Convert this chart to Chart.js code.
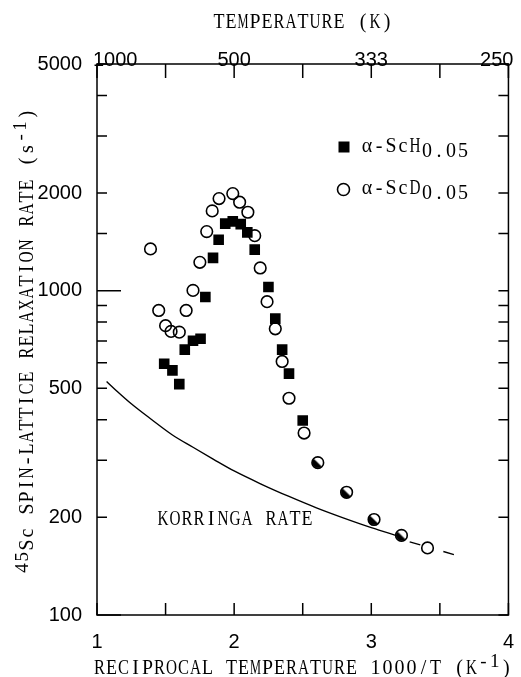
<!DOCTYPE html>
<html>
<head>
<meta charset="utf-8">
<title>45Sc spin-lattice relaxation rate</title>
<script src="https://cdn.jsdelivr.net/npm/chart.js@4.4.1/dist/chart.umd.min.js"></script>
<style>
  html, body { margin: 0; padding: 0; background: #fff; }
  #wrap { position: relative; width: 521px; height: 677px; }
</style>
</head>
<body>
<div id="wrap"><canvas id="chart"></canvas></div>
<script>
// α-ScH0.05 - filled squares (1000/T in K^-1, rate in s^-1)
const hX = [1.49, 1.55, 1.60, 1.64, 1.70, 1.755, 1.79, 1.846, 1.887, 1.935, 1.99, 2.048, 2.096, 2.15, 2.25, 2.30, 2.35, 2.40, 2.50, 2.61, 2.82, 3.02, 3.22];
const hY = [595, 568, 515, 658, 701, 711, 956, 1262, 1436, 1610, 1636, 1604, 1513, 1338, 1026, 820, 658, 555, 398, 295, 239, 197, 176];

// α-ScD0.05 - open circles
const dX = [1.39, 1.45, 1.50, 1.54, 1.60, 1.65, 1.70, 1.75, 1.80, 1.84, 1.89, 1.99, 2.04, 2.10, 2.15, 2.19, 2.24, 2.30, 2.35, 2.40, 2.51, 2.61, 2.82, 3.02, 3.22, 3.41];
const dY = [1345, 869, 780, 749, 745, 869, 1002, 1223, 1521, 1762, 1923, 1992, 1874, 1745, 1478, 1175, 925, 763, 605, 466, 364, 295, 239, 197, 176, 161];

// Korringa rate: solid part, then dashed extrapolation
const kX = [1.07, 1.15, 1.25, 1.4, 1.55, 1.7, 1.85, 2.0, 2.2, 2.4, 2.6, 2.8, 3.0, 3.2];
const kY = [525, 488, 448, 400, 359, 329, 302, 278, 253, 232, 214, 199, 186, 175];
const kDashX = [3.28, 3.64];
const kDashY = [168, 152];

// axes
const xMin = 1, xMax = 4;
const yMin = 100, yMax = 5000;
const yLabelled = [100, 200, 500, 1000, 2000, 5000];
const topTempLabels = ['1000', '500', '333', '250']; // temperature at 1000/T = 1, 2, 3, 4

const TYPE = '"Liberation Serif", "DejaVu Serif", serif';
const SANS = '"Liberation Sans", Arial, sans-serif';
const CELL = 12; // typewriter pitch, px per character

function pts(xs, ys) {
    return xs.map((x, i) => ({ x: x, y: ys[i] }));
}

// both samples measured at the same point -> half filled marker
function isShared(x, y) {
    return dX.some((v, i) => v === x && dY[i] === y);
}

function halfDisc() {
    const c = document.createElement('canvas');
    c.width = 16;
    c.height = 16;
    const g = c.getContext('2d');
    g.fillStyle = '#000';
    g.beginPath();
    g.arc(8, 8, 5.8, Math.PI / 4, Math.PI * 5 / 4);
    g.closePath();
    g.fill();
    return c;
}
const halfMarker = halfDisc();

// typewriter-like text: every character in a fixed cell, parts = [{t, size, dy}]
function drawRich(ctx, parts, x, y, align) {
    let total = 0;
    parts.forEach(p => { p.cell = CELL * p.size / 20; total += p.t.length * p.cell; });
    let cx = align === 'center' ? x - total / 2 : x;
    ctx.textAlign = 'center';
    ctx.textBaseline = 'alphabetic';
    parts.forEach(p => {
        ctx.font = p.size + 'px ' + TYPE;
        for (const ch of p.t) {
            const w = ctx.measureText(ch).width;
            const sx = Math.min(1, (p.cell - 1) / w);
            ctx.save();
            ctx.translate(cx + p.cell / 2, y + (p.dy || 0));
            ctx.scale(sx, 1);
            ctx.fillText(ch, 0, 0);
            ctx.restore();
            cx += p.cell;
        }
    });
}

const decor = {
    id: 'decor',
    beforeDatasetsDraw(chart) {
        const { ctx, chartArea: a, scales } = chart;
        ctx.save();
        ctx.strokeStyle = '#000';
        ctx.lineWidth = 1.5;
        ctx.strokeRect(a.left, a.top, a.right - a.left, a.bottom - a.top);

        // inward tick marks
        ctx.beginPath();
        scales.y.ticks.forEach(t => {
            const py = scales.y.getPixelForValue(t.value);
            const len = (t.value === 100 || t.value === 1000) ? 24 : 10;
            ctx.moveTo(a.left, py);
            ctx.lineTo(a.left + len, py);
            ctx.moveTo(a.right, py);
            ctx.lineTo(a.right - 10, py);
        });
        scales.x.ticks.forEach(t => {
            const px = scales.x.getPixelForValue(t.value);
            ctx.moveTo(px, a.bottom);
            ctx.lineTo(px, a.bottom - 12);
        });
        scales.x2.ticks.forEach(t => {
            const px = scales.x2.getPixelForValue(t.value);
            ctx.moveTo(px, a.top);
            ctx.lineTo(px, a.top + 14);
        });
        ctx.stroke();
        ctx.restore();
    },
    afterDraw(chart) {
        const { ctx, chartArea: a, scales } = chart;
        ctx.save();
        ctx.fillStyle = '#000';

        // temperature labels on the top axis
        ctx.font = '20px ' + SANS;
        ctx.textBaseline = 'alphabetic';
        const major = scales.x2.ticks.filter(t => Number.isInteger(t.value));
        major.forEach((t, i) => {
            const px = scales.x2.getPixelForValue(t.value);
            const label = topTempLabels[t.value - xMin];
            if (i === 0) {
                ctx.textAlign = 'left';
                ctx.fillText(label, px - 4, a.top + 2);
            } else if (i === major.length - 1) {
                ctx.textAlign = 'right';
                ctx.fillText(label, px + 5, a.top + 2);
            } else {
                ctx.textAlign = 'center';
                ctx.fillText(label, px, a.top + 2);
            }
        });

        // axis titles
        drawRich(ctx, [{ t: 'TEMPERATURE (K)', size: 20 }], 303, 28, 'center');
        drawRich(ctx, [
            { t: 'RECIPROCAL TEMPERATURE 1000/T (K', size: 20 },
            { t: '-1', size: 19, dy: -7 },
            { t: ')', size: 20 }
        ], 303, 674, 'center');

        ctx.save();
        ctx.translate(33, 341);
        ctx.rotate(-Math.PI / 2);
        drawRich(ctx, [
            { t: '45', size: 19, dy: -5 },
            { t: 'Sc SPIN-LATTICE RELAXATION RATE (s', size: 20 },
            { t: '-1', size: 19, dy: -7 },
            { t: ')', size: 20 }
        ], 0, 0, 'center');
        ctx.restore();

        // legend
        ctx.fillRect(338.5, 141.5, 11, 11);
        ctx.lineWidth = 1.6;
        ctx.beginPath();
        ctx.arc(343.5, 189.5, 6, 0, Math.PI * 2);
        ctx.stroke();
        drawRich(ctx, [{ t: 'α-ScH', size: 20 }, { t: '0.05', size: 20, dy: 5 }], 361, 152, 'left');
        drawRich(ctx, [{ t: 'α-ScD', size: 20 }, { t: '0.05', size: 20, dy: 5 }], 361, 194, 'left');

        drawRich(ctx, [{ t: 'KORRINGA RATE', size: 20 }], 157, 525, 'left');
        ctx.restore();
    }
};

const ctx = document.getElementById('chart').getContext('2d');
new Chart(ctx, {
    type: 'scatter',
    data: {
        datasets: [
            {
                label: 'α-ScD0.05',
                data: pts(dX, dY),
                pointStyle: 'circle',
                pointRadius: 5.8,
                borderWidth: 1.6,
                borderColor: '#000',
                backgroundColor: c => isShared(dX[c.dataIndex], dY[c.dataIndex]) ? 'rgba(0,0,0,0)' : '#fff'
            },
            {
                label: 'α-ScH0.05',
                data: pts(hX, hY),
                pointStyle: c => isShared(hX[c.dataIndex], hY[c.dataIndex]) ? halfMarker : 'rect',
                pointRadius: 7.5,
                borderWidth: 0,
                borderColor: '#000',
                backgroundColor: '#000'
            },
            {
                label: 'Korringa rate',
                type: 'line',
                data: pts(kX, kY),
                borderColor: '#000',
                borderWidth: 1.4,
                pointRadius: 0,
                cubicInterpolationMode: 'monotone',
                fill: false
            },
            {
                label: 'Korringa rate (extrapolated)',
                type: 'line',
                data: pts(kDashX, kDashY),
                borderColor: '#000',
                borderWidth: 1.4,
                borderDash: [11, 24],
                pointRadius: 0,
                fill: false
            }
        ]
    },
    options: {
        responsive: true,
        maintainAspectRatio: false,
        animation: false,
        layout: { padding: { top: 0, left: 0, right: 8, bottom: 0 } },
        plugins: {
            legend: { display: false },
            tooltip: { enabled: false }
        },
        scales: {
            x: {
                type: 'linear',
                position: 'bottom',
                min: xMin,
                max: xMax,
                ticks: {
                    stepSize: 0.5,
                    autoSkip: false,
                    maxRotation: 0,
                    padding: 7,
                    color: '#000',
                    font: { family: SANS, size: 20 },
                    callback: v => Number.isInteger(v) ? String(v) : ''
                },
                grid: { display: false },
                border: { display: false },
                afterFit: s => { s.height = 62; }
            },
            x2: {
                type: 'linear',
                position: 'top',
                min: xMin,
                max: xMax,
                ticks: { stepSize: 0.5, display: false },
                grid: { display: false },
                border: { display: false },
                afterFit: s => { s.height = 64; }
            },
            y: {
                type: 'logarithmic',
                min: yMin,
                max: yMax,
                ticks: {
                    autoSkip: false,
                    padding: 7,
                    color: '#000',
                    font: { family: SANS, size: 20 },
                    callback: v => yLabelled.includes(v) ? String(v) : ''
                },
                grid: { display: false },
                border: { display: false },
                afterFit: s => { s.width = 97; }
            }
        }
    },
    plugins: [decor]
});
</script>
</body>
</html>
